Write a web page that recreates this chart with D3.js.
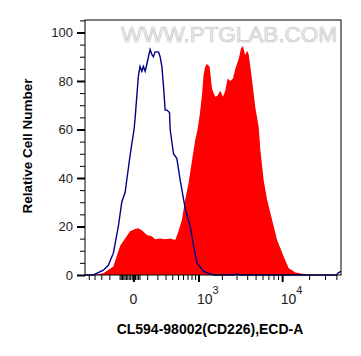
<!DOCTYPE html>
<html><head><meta charset="utf-8">
<script src="https://cdn.jsdelivr.net/npm/d3@7"></script>
<style>
html,body{margin:0;padding:0;background:#fff;}
svg{display:block;}
</style></head>
<body>
<svg id="chart" width="361" height="356"></svg>
<script>
// ---- data (fluorescence value, relative count) ----
const controlX = [-574,-420,-272,-212,-158,-111,-82,-56,-26,-10,4,11,32,44,57,69,83,97,126,142,158,175,212,231,252,273,295,319,357,367,420,479,542,647,767,855,953,1170,1575,2800,3040,3300,40000,42300,45000];
const controlY = [0,0,2,4,9,20,30,34,47,54,60,65,82,86,84,86,84,87,93,91,90,92,92,90,86,78,68,68,67,60,50,48,39,27.5,20,12,5,1.5,0,0,0.5,0,0,1,1.5];
const sampleX = [-574,-420,-272,-158,-96,-69,-21,11,32,57,97,142,175,231,295,367,449,509,576,647,725,811,903,971,1040,1114,1170,1231,1296,1401,1503,1575,1655,1768,1910,2062,2200,2346,2529,2725,2903,3176,3390,3578,3707,3806,3985,4160,4352,4554,4971,5424,5673,6190,6766,7711,8782,10420,11860,14090,17440,19820,45000];
const sampleY = [0,0,0.7,3.5,12,14,18,19,19.3,18.5,16.5,16,14.7,15,14.7,15,14.4,18,22.7,31,37.8,47,55.7,60,66,74,82.5,86,87,86,77,75,73.5,74,76,73.5,76,81,80,81,85,89,93.5,94.4,92,90.7,92.5,91,86,80.4,69,61,51.5,39,31,22.7,14.4,7.5,2.8,1,0.4,0,0];
const yMajorTicks = [0,20,40,60,80,100];
const yMinorTicks = [5,10,15,25,30,35,45,50,55,65,70,75,85,90,95,105];
const xMajorTicks = [0,1000,10000];
const xMajorLabels = [{base:"0",exp:""},{base:"10",exp:"3"},{base:"10",exp:"4"}];
const xMinorTicks = [-500,-400,-300,-200,-100,-90,-80,-70,-60,-50,-40,-30,-20,-10,10,20,30,40,100,200,300,400,500,600,700,800,900,2000,3000,4000,5000,6000,7000,8000,9000,20000,30000,40000];
const xTitle = "CL594-98002(CD226),ECD-A";
const yTitle = "Relative Cell Number";
const watermark = "WWW.PTGLAB.COM";

// ---- layout ----
const L = 85, R = 341, T = 20, B = 275;
const svg = d3.select("#chart");
const x = d3.scaleSymlog().constant(240).domain([-574, 45000]).range([L, R]);
const y = d3.scaleLinear().domain([0, 105.15]).range([B, T]);

// watermark
svg.append("text").attr("x", 121).attr("y", 41.5)
  .attr("textLength", 216).attr("lengthAdjust", "spacingAndGlyphs")
  .attr("font-family", "Liberation Sans, Arial, sans-serif").attr("font-size", 22)
  .attr("fill", "#f1f1f1").attr("stroke", "#c6c6c6").attr("stroke-width", 0.7)
  .text(watermark);

const sample = sampleX.map((v, i) => [v, sampleY[i]]);
const control = controlX.map((v, i) => [v, controlY[i]]);

const g = svg.append("g");
g.append("path").datum(sample)
  .attr("d", d3.area().x(d => x(d[0])).y0(y(0)).y1(d => y(d[1])).curve(d3.curveLinear))
  .attr("fill", "#ff0000");
g.append("path").datum(control)
  .attr("d", d3.line().x(d => x(d[0])).y(d => y(d[1])).curve(d3.curveLinear))
  .attr("fill", "none").attr("stroke", "#00008b").attr("stroke-width", 1.4);

// frame
svg.append("rect").attr("x", L).attr("y", T).attr("width", R - L).attr("height", B - T)
  .attr("fill", "none").attr("stroke", "#000").attr("stroke-width", 1);

// y axis
const yAxisMajor = d3.axisLeft(y).tickValues(yMajorTicks).tickSize(8).tickFormat(d3.format("d"));
const ya = svg.append("g").attr("transform", `translate(${L},0)`).call(yAxisMajor);
ya.select(".domain").remove();
ya.selectAll("line").attr("stroke", "#000").attr("stroke-width", 2);
ya.selectAll("text").attr("font-family", "Liberation Sans, Arial, sans-serif").attr("font-size", 13).attr("fill", "#222").attr("x", -12);
const yb = svg.append("g").attr("transform", `translate(${L},0)`).call(d3.axisLeft(y).tickValues(yMinorTicks).tickSize(5).tickFormat(""));
yb.select(".domain").remove();
yb.selectAll("line").attr("stroke", "#000");

// x axis
const xa = svg.append("g").attr("transform", `translate(0,${B})`).call(d3.axisBottom(x).tickValues(xMajorTicks).tickSize(7).tickFormat(""));
xa.select(".domain").remove();
xa.selectAll("line").attr("stroke", "#000").attr("stroke-width", 2);
const xb = svg.append("g").attr("transform", `translate(0,${B})`).call(d3.axisBottom(x).tickValues(xMinorTicks).tickSize(5).tickFormat(""));
xb.select(".domain").remove();
xb.selectAll("line").attr("stroke", "#000");

xMajorTicks.forEach((v, i) => {
  const lab = xMajorLabels[i];
  const t = svg.append("text").attr("y", 304)
    .attr("font-family", "Liberation Sans, Arial, sans-serif").attr("font-size", 14).attr("fill", "#222");
  if (lab.exp === "") {
    t.attr("x", x(v)).attr("text-anchor", "middle").text(lab.base);
  } else {
    t.attr("x", x(v) - 1.5).attr("text-anchor", "start");
    t.append("tspan").text(lab.base);
    t.append("tspan").attr("font-size", 11).attr("dy", -10).text(lab.exp);
  }
});

// titles
svg.append("text").attr("x", 210).attr("y", 333.5).attr("text-anchor", "middle")
  .attr("font-family", "Liberation Sans, Arial, sans-serif").attr("font-weight", "bold").attr("font-size", 14)
  .attr("fill", "#000").text(xTitle);
svg.append("text").attr("transform", "translate(32,146) rotate(-90)").attr("text-anchor", "middle")
  .attr("font-family", "Liberation Sans, Arial, sans-serif").attr("font-weight", "bold").attr("font-size", 13.5)
  .attr("fill", "#000").text(yTitle);
</script>
</body></html>
